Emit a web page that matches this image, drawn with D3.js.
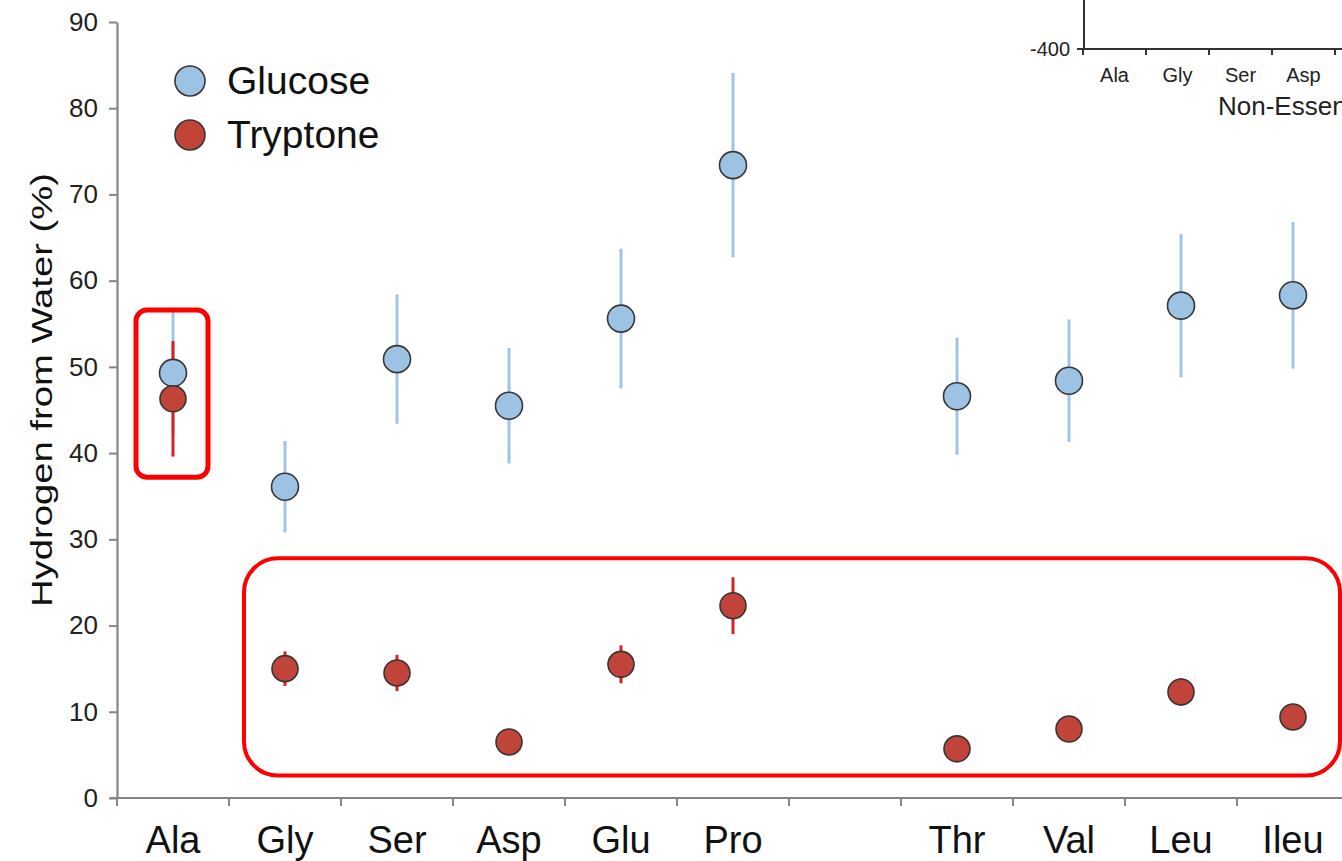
<!DOCTYPE html>
<html>
<head>
<meta charset="utf-8">
<script src="https://cdn.jsdelivr.net/npm/d3@7"></script>
<style>
  html, body { margin: 0; padding: 0; background: #fff; }
  svg { display: block; }
  text { font-family: "Liberation Sans", Arial, Helvetica, sans-serif; }
</style>
</head>
<body>
<svg id="chart" width="1342" height="861"></svg>
<script>
// ---------------- data ----------------
const categories = ["Ala", "Gly", "Ser", "Asp", "Glu", "Pro", "", "Thr", "Val", "Leu", "Ileu"];
const aminoAcids = ["Ala", "Gly", "Ser", "Asp", "Glu", "Pro", "Thr", "Val", "Leu", "Ileu"];
const glucoseMean = [49.3, 36.1, 50.9, 45.5, 55.6, 73.4, 46.6, 48.4, 57.1, 58.3];
const glucoseErr  = [7.1, 5.3, 7.5, 6.7, 8.1, 10.7, 6.8, 7.1, 8.3, 8.5];
const tryptoneMean = [46.3, 15.0, 14.5, 6.5, 15.5, 22.3, 5.7, 8.0, 12.3, 9.4];
const tryptoneErr  = [6.7, 2.0, 2.1, 0.6, 2.2, 3.3, 0.5, 0.6, 1.6, 0.6];
const yTicks = [0, 10, 20, 30, 40, 50, 60, 70, 80, 90];
const seriesNames = ["Glucose", "Tryptone"];
const yLabel = "Hydrogen from Water (%)";
// highlighted groups (by category)
const highlightSmall = ["Ala"];
const highlightLarge = ["Gly", "Ileu"];
// inset (partially visible panel)
const insetCategories = ["Ala", "Gly", "Ser", "Asp"];
const insetTicks = [-400];
const insetTitle = "Non-Essential";

// ---------------- styles ----------------
const blueFill = "#9dc3e4", blueBar = "#9cc4e4";
const redFill = "#c0443a", redBar = "#d42424";
const ptStroke = "#3a3535";
const axisColor = "#858585";

const svg = d3.select("#chart");

const x = d3.scaleBand().domain(categories).range([117, 117 + 11 * 112]).padding(0);
const y = d3.scaleLinear().domain([0, 90]).range([798, 22]);
const cx = c => x(c) + x.bandwidth() / 2;

// ---------------- axes ----------------
const yAxis = svg.append("g").attr("transform", "translate(117,0)")
  .call(d3.axisLeft(y).tickValues(yTicks).tickSize(8).tickPadding(11).tickSizeOuter(0));
yAxis.select(".domain").attr("stroke", axisColor).attr("stroke-width", 2.2);
yAxis.selectAll(".tick line").attr("stroke", axisColor).attr("stroke-width", 2);
yAxis.selectAll(".tick text").attr("font-size", 26).attr("fill", "#222")
  .attr("font-family", "'Liberation Sans', Arial, sans-serif");

// x axis line
svg.append("line").attr("x1", 110).attr("x2", 1342).attr("y1", y(0)).attr("y2", y(0))
  .attr("stroke", axisColor).attr("stroke-width", 2.2);
// x ticks at band boundaries
const bounds = categories.map(c => x(c)).concat([x.range()[1]]);
svg.append("g").selectAll("line").data(bounds).join("line")
  .attr("x1", d => d).attr("x2", d => d)
  .attr("y1", y(0)).attr("y2", y(0) + 8)
  .attr("stroke", axisColor).attr("stroke-width", 2);
svg.append("g").selectAll("text").data(categories.filter(c => c !== "")).join("text")
  .attr("x", d => cx(d)).attr("y", 853)
  .attr("text-anchor", "middle").attr("font-size", 38).attr("fill", "#111")
  .text(d => d);

// y label
svg.append("text")
  .attr("transform", `translate(52,${(y(0) + y(90)) / 2 - 20}) rotate(-90)`)
  .attr("text-anchor", "middle").attr("font-size", 30).attr("fill", "#111")
  .attr("textLength", 434).attr("lengthAdjust", "spacingAndGlyphs")
  .text(yLabel);

// ---------------- error bars ----------------
const glu = aminoAcids.map((c, i) => ({c, m: glucoseMean[i], e: glucoseErr[i]}));
const tryp = aminoAcids.map((c, i) => ({c, m: tryptoneMean[i], e: tryptoneErr[i]}));

svg.append("g").selectAll("line").data(glu).join("line")
  .attr("x1", d => cx(d.c)).attr("x2", d => cx(d.c))
  .attr("y1", d => y(d.m + d.e)).attr("y2", d => y(d.m - d.e))
  .attr("stroke", blueBar).attr("stroke-width", 3);
svg.append("g").selectAll("line").data(tryp).join("line")
  .attr("x1", d => cx(d.c)).attr("x2", d => cx(d.c))
  .attr("y1", d => y(d.m + d.e)).attr("y2", d => y(d.m - d.e))
  .attr("stroke", redBar).attr("stroke-width", 3);

// ---------------- points ----------------
svg.append("g").selectAll("circle").data(glu).join("circle")
  .attr("cx", d => cx(d.c)).attr("cy", d => y(d.m)).attr("r", 13.5)
  .attr("fill", blueFill).attr("stroke", ptStroke).attr("stroke-width", 1.6);
svg.append("g").selectAll("circle").data(tryp).join("circle")
  .attr("cx", d => cx(d.c)).attr("cy", d => y(d.m)).attr("r", 13)
  .attr("fill", redFill).attr("stroke", ptStroke).attr("stroke-width", 1.6);

// ---------------- legend ----------------
const legColors = [blueFill, redFill];
const leg = svg.append("g").selectAll("g").data(seriesNames).join("g")
  .attr("transform", (d, i) => `translate(190,${81 + i * 54})`);
leg.append("circle").attr("r", 15).attr("fill", (d, i) => legColors[i])
  .attr("stroke", ptStroke).attr("stroke-width", 1.6);
leg.append("text").attr("x", 37).attr("y", 13).attr("font-size", 39).attr("fill", "#111")
  .text(d => d);

// ---------------- highlight boxes ----------------
svg.append("rect")
  .attr("x", x(highlightSmall[0]) + 19).attr("y", y(56.6))
  .attr("width", 72).attr("height", y(37.2) - y(56.6))
  .attr("rx", 11).attr("fill", "none").attr("stroke", "#ff0000").attr("stroke-width", 5);
svg.append("rect")
  .attr("x", x(highlightLarge[0]) + 15).attr("y", y(27.8))
  .attr("width", x(highlightLarge[1]) + x.bandwidth() - 1 - (x(highlightLarge[0]) + 15) - 8)
  .attr("height", y(2.6) - y(27.8))
  .attr("rx", 34).attr("fill", "none").attr("stroke", "#ff0000").attr("stroke-width", 4);

// ---------------- inset (cropped panel) ----------------
const ix = d3.scaleBand().domain(insetCategories).range([1083, 1083 + 4 * 63]).padding(0);
const iy = d3.scaleLinear().domain([-400, 0]).range([49, -300]);
const inset = svg.append("g");
inset.append("rect").attr("x", 1020).attr("y", 0).attr("width", 322).attr("height", 125).attr("fill", "#fff");
inset.append("line").attr("x1", 1084).attr("x2", 1084).attr("y1", 0).attr("y2", iy(-400))
  .attr("stroke", "#333").attr("stroke-width", 2);
inset.append("line").attr("x1", 1084).attr("x2", 1342).attr("y1", iy(-400)).attr("y2", iy(-400))
  .attr("stroke", "#333").attr("stroke-width", 2);
inset.selectAll(".yt").data(insetTicks).join("line").attr("class", "yt")
  .attr("x1", 1077).attr("x2", 1084).attr("y1", d => iy(d)).attr("y2", d => iy(d))
  .attr("stroke", "#333").attr("stroke-width", 2);
inset.selectAll(".ytl").data(insetTicks).join("text").attr("class", "ytl")
  .attr("x", 1070).attr("y", d => iy(d) + 7).attr("text-anchor", "end")
  .attr("font-size", 20).attr("fill", "#222").text(d => d);
const insetBounds = insetCategories.map(c => ix(c)).concat([ix.range()[1]]);
inset.selectAll(".xt").data(insetBounds).join("line").attr("class", "xt")
  .attr("x1", d => d).attr("x2", d => d).attr("y1", iy(-400)).attr("y2", iy(-400) + 6)
  .attr("stroke", "#333").attr("stroke-width", 2);
inset.selectAll(".xtl").data(insetCategories).join("text").attr("class", "xtl")
  .attr("x", d => ix(d) + ix.bandwidth() / 2).attr("y", 82).attr("text-anchor", "middle")
  .attr("font-size", 20).attr("fill", "#222").text(d => d);
inset.append("text").attr("x", 1218).attr("y", 115).attr("font-size", 26).attr("fill", "#222")
  .text(insetTitle);
</script>
</body>
</html>
